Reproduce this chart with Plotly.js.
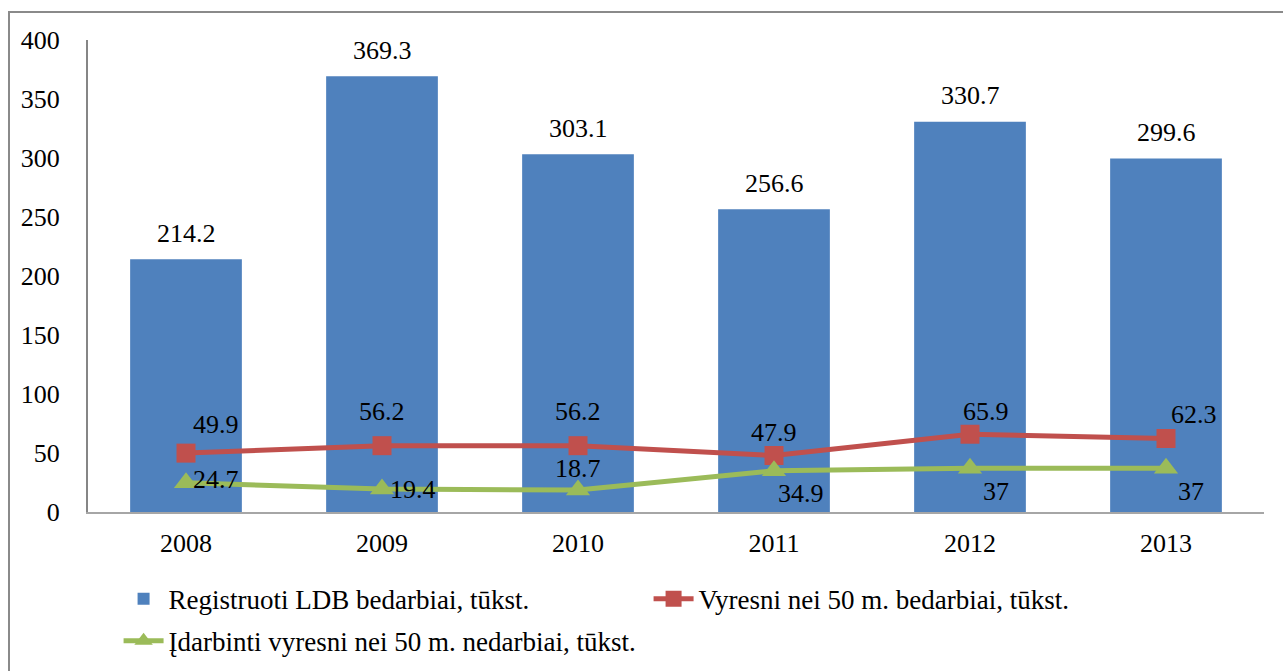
<!DOCTYPE html>
<html>
<head>
<meta charset="utf-8">
<script src="https://cdn.plot.ly/plotly-3.0.1.min.js"></script>
<style>
  html, body { margin: 0; padding: 0; background: #ffffff; }
  #wrap { position: relative; width: 1283px; height: 671px; overflow: hidden; }
  #chart { width: 1283px; height: 671px; }
  #frame { position: absolute; left: 8px; top: 11px; width: 1400px; height: 800px;
           border-left: 2px solid #8a8a8a; border-top: 2px solid #8a8a8a; pointer-events: none; }
</style>
</head>
<body>
<div id="wrap">
  <div id="chart"></div>
  <div id="frame"></div>
</div>
<script>
// ---- data ----
const years = ['2008', '2009', '2010', '2011', '2012', '2013'];
const registered = [214.2, 369.3, 303.1, 256.6, 330.7, 299.6];
const older50 = [49.9, 56.2, 56.2, 47.9, 65.9, 62.3];
const employed50 = [24.7, 19.4, 18.7, 34.9, 37, 37];
const seriesNames = [
  'Registruoti LDB bedarbiai, tūkst.',
  'Vyresni nei 50 m. bedarbiai, tūkst.',
  'Įdarbinti vyresni nei 50 m. nedarbiai, tūkst.'
];
const yTicks = [0, 50, 100, 150, 200, 250, 300, 350, 400];

// ---- styling ----
const FONT = '"Liberation Serif", "Times New Roman", Times, serif';
const BLUE = '#4F81BD', RED = '#C0504D', GREEN = '#9BBB59';

// label placements (Excel-like), as [xshift, yshift] in px
const redLabelShift = [[30, 29], [0, 34], [0, 34], [0, 23], [16, 23], [28, 24]];
const greenLabelShift = [[30, 3], [31, 0], [0, 21], [27, -23], [26, -23], [25, -23]];

const traces = [
  {
    type: 'bar', x: years, y: registered, name: seriesNames[0],
    marker: { color: BLUE }, width: 0.57, legend: 'legend'
  },
  {
    type: 'scatter', mode: 'lines+markers', x: years, y: older50, name: seriesNames[1],
    line: { color: RED, width: 5 },
    marker: { symbol: 'square', size: 19, color: RED }, legend: 'legend'
  },
  {
    type: 'scatter', mode: 'lines+markers', x: years, y: employed50, name: seriesNames[2],
    line: { color: GREEN, width: 5 },
    marker: { symbol: 'triangle-up', size: 21, color: GREEN }, legend: 'legend2'
  }
];

const lblFont = { family: FONT, size: 26, color: '#000' };
const legFont = { family: FONT, size: 27, color: '#000' };
const annotations = [];
years.forEach((yr, i) => {
  annotations.push({ x: i, y: registered[i], text: String(registered[i]), showarrow: false,
    yshift: 26, font: lblFont });
  annotations.push({ x: i, y: older50[i], text: String(older50[i]), showarrow: false,
    xshift: redLabelShift[i][0], yshift: redLabelShift[i][1], font: lblFont });
  annotations.push({ x: i, y: employed50[i], text: String(employed50[i]), showarrow: false,
    xshift: greenLabelShift[i][0], yshift: greenLabelShift[i][1], font: lblFont });
});

const legendCommon = {
  orientation: 'h', xanchor: 'left', yanchor: 'top',
  entrywidth: 475, entrywidthmode: 'pixels', itemwidth: 40,
  font: legFont, traceorder: 'normal', bgcolor: 'rgba(0,0,0,0)'
};

const layout = {
  width: 1283, height: 671,
  margin: { l: 88, r: 19, t: 40, b: 159, autoexpand: false },
  paper_bgcolor: 'rgba(0,0,0,0)', plot_bgcolor: 'rgba(0,0,0,0)',
  font: lblFont,
  showlegend: true,
  xaxis: {
    type: 'category', range: [-0.5, 5.5], automargin: false,
    showline: true, linecolor: '#a6a6a6', linewidth: 2,
    showgrid: false, ticks: '', zeroline: false,
    ticklabelstandoff: 7,
    tickfont: lblFont
  },
  yaxis: {
    range: [0, 400], tickvals: yTicks, ticktext: yTicks.map(String), automargin: false,
    showline: true, linecolor: '#868686', linewidth: 2,
    showgrid: false, zeroline: false, ticks: '',
    ticklabelstandoff: 21,
    tickfont: lblFont
  },
  legend: Object.assign({ x: 0.026, y: -0.133 }, legendCommon),
  legend2: Object.assign({ x: 0.026, y: -0.222 }, legendCommon),
  annotations: annotations
};

Plotly.newPlot('chart', traces, layout, { displayModeBar: false, staticPlot: true });
</script>
</body>
</html>
